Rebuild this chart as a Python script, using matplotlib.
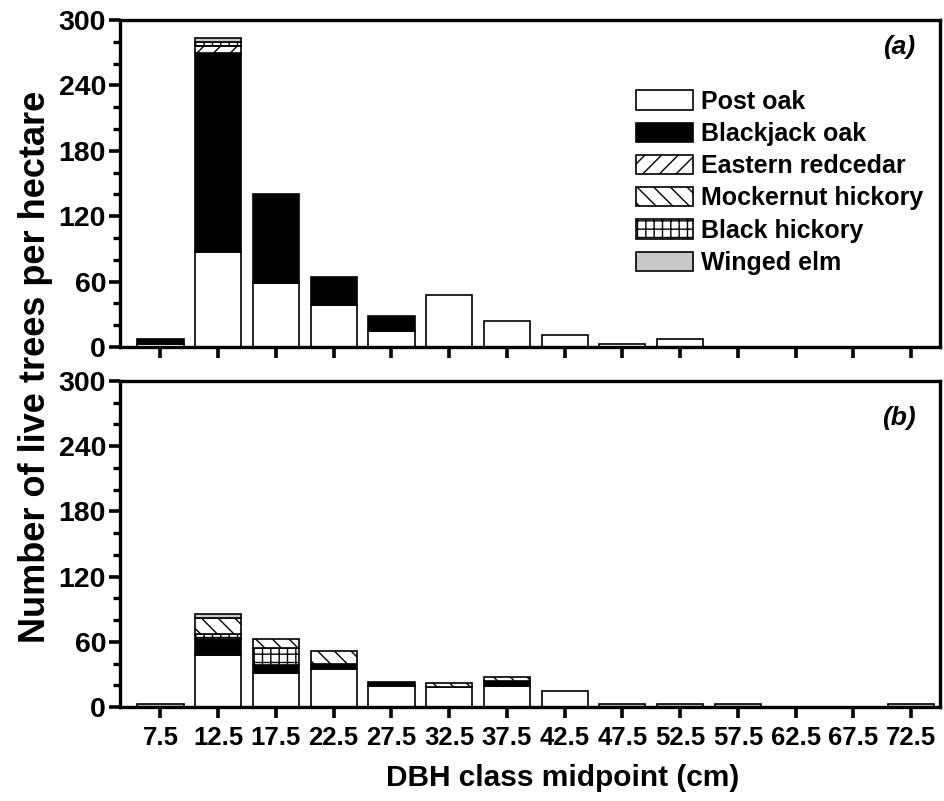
import numpy as np
import matplotlib
matplotlib.use("Agg")
import matplotlib.pyplot as plt
from matplotlib.patches import Patch
from matplotlib.ticker import MultipleLocator

plt.rcParams['font.family'] = ['Liberation Sans', 'DejaVu Sans']
plt.rcParams['font.weight'] = 'bold'
plt.rcParams['hatch.linewidth'] = 1.0

midpoints = [7.5, 12.5, 17.5, 22.5, 27.5, 32.5, 37.5, 42.5, 47.5, 52.5, 57.5, 62.5, 67.5, 72.5]
tick_labels = ["7.5", "12.5", "17.5", "22.5", "27.5", "32.5", "37.5", "42.5",
               "47.5", "52.5", "57.5", "62.5", "67.5", "72.5"]

# Panel (a)
post_a = [3, 87.5, 59, 38.5, 15, 47.5, 24, 11, 3, 7, 0, 0, 0, 0]
blackjack_a = [4.5, 182, 81, 25.5, 13, 0, 0, 0, 0, 0, 0, 0, 0, 0]
redcedar_a = [0, 7, 0, 0, 0, 0, 0, 0, 0, 0, 0, 0, 0, 0]
mockernut_a = [0, 0, 0, 0, 0, 0, 0, 0, 0, 0, 0, 0, 0, 0]
blackhickory_a = [0, 3.5, 0, 0, 0, 0, 0, 0, 0, 0, 0, 0, 0, 0]
elm_a = [0, 3.5, 0, 0, 0, 0, 0, 0, 0, 0, 0, 0, 0, 0]

# Panel (b)
post_b = [0, 48, 31, 35, 19, 18.5, 19.5, 15, 0, 0, 0, 0, 0, 0]
blackjack_b = [0, 15, 7.5, 4.5, 4, 0, 4, 0, 0, 0, 0, 0, 0, 0]
redcedar_b = [0, 0, 0, 0, 0, 0, 0, 0, 0, 0, 0, 0, 0, 0]
mockernut_b = [0, 14.5, 9, 12, 0, 4, 4, 0, 0, 0, 0, 0, 0, 0]
blackhickory_b = [0, 4.5, 15.5, 0, 0, 0, 0, 0, 0, 0, 0, 0, 0, 0]
elm_b = [3, 4, 0, 0, 0, 0, 0, 0, 3, 3, 3, 0, 0, 3]

species = ["Post oak", "Blackjack oak", "Eastern redcedar", "Mockernut hickory",
           "Black hickory", "Winged elm"]
styles = {
    "Post oak": dict(facecolor="white", hatch=None),
    "Blackjack oak": dict(facecolor="black", hatch=None),
    "Eastern redcedar": dict(facecolor="white", hatch="//"),
    "Mockernut hickory": dict(facecolor="white", hatch="\\\\"),
    "Black hickory": dict(facecolor="white", hatch="++"),
    "Winged elm": dict(facecolor="#c8c8c8", hatch=None),
}
stack_order = ["Post oak", "Blackjack oak", "Eastern redcedar", "Black hickory",
               "Mockernut hickory", "Winged elm"]

panel_a = {"Post oak": post_a, "Blackjack oak": blackjack_a, "Eastern redcedar": redcedar_a,
           "Mockernut hickory": mockernut_a, "Black hickory": blackhickory_a, "Winged elm": elm_a}
panel_b = {"Post oak": post_b, "Blackjack oak": blackjack_b, "Eastern redcedar": redcedar_b,
           "Mockernut hickory": mockernut_b, "Black hickory": blackhickory_b, "Winged elm": elm_b}

fig = plt.figure(figsize=(9.45, 8.01), dpi=100)
L, R = 120 / 945, 940 / 945
ax_a = fig.add_axes([L, 1 - 347 / 801, R - L, (347 - 20) / 801])
ax_b = fig.add_axes([L, 1 - 707 / 801, R - L, (707 - 381) / 801])

x = np.array(midpoints)
for ax, data in ((ax_a, panel_a), (ax_b, panel_b)):
    bottom = np.zeros(len(midpoints))
    for sp in stack_order:
        vals = np.array(data[sp], dtype=float)
        m = vals > 0
        st = styles[sp]
        ax.bar(x[m], vals[m], bottom=bottom[m], width=4.0, facecolor=st["facecolor"],
               edgecolor="black", linewidth=1.2, hatch=st["hatch"])
        bottom += vals
    ax.set_xlim(4, 75)
    ax.set_ylim(0, 300)
    ax.yaxis.set_major_locator(MultipleLocator(60))
    ax.yaxis.set_minor_locator(MultipleLocator(20))
    ax.set_xticks(midpoints)
    for s in ax.spines.values():
        s.set_linewidth(2.4)
    ax.tick_params(axis='both', which='major', direction='out', length=8, width=2.6)
    ax.tick_params(axis='y', which='major', labelsize=20.5, pad=2)
    ax.tick_params(axis='y', which='minor', direction='out', length=5, width=2.4)
    ax.tick_params(axis='x', which='minor', bottom=False)
    for lab in ax.get_yticklabels():
        lab.set_fontweight('bold')

ax_a.tick_params(axis='x', labelbottom=False)
ax_b.set_xticklabels(tick_labels, fontsize=18.5, fontweight='bold')
ax_b.tick_params(axis='x', pad=6)

ax_a.text(0.97, 0.917, "(a)", transform=ax_a.transAxes, ha="right", va="center",
          fontsize=19, fontweight="bold", fontstyle="italic")
ax_b.text(0.97, 0.886, "(b)", transform=ax_b.transAxes, ha="right", va="center",
          fontsize=19, fontweight="bold", fontstyle="italic")

handles = [Patch(facecolor=styles[sp]["facecolor"], edgecolor="black", linewidth=1.2,
                 hatch=styles[sp]["hatch"], label=sp) for sp in species]
ax_a.legend(handles=handles, loc="upper left", bbox_to_anchor=(0.629, 0.787),
            frameon=False, borderpad=0, borderaxespad=0, handlelength=2.3,
            handleheight=0.8, labelspacing=0.33, handletextpad=0.3,
            prop=dict(size=18, weight="bold"))

fig.text(0.038, 0.542, "Number of live trees per hectare", rotation=90, ha="center",
         va="center", fontsize=26, fontweight="bold")
fig.text(0.595, 0.029, "DBH class midpoint (cm)", ha="center", va="center",
         fontsize=21.5, fontweight="bold")

fig.savefig("out.png", dpi=100)
